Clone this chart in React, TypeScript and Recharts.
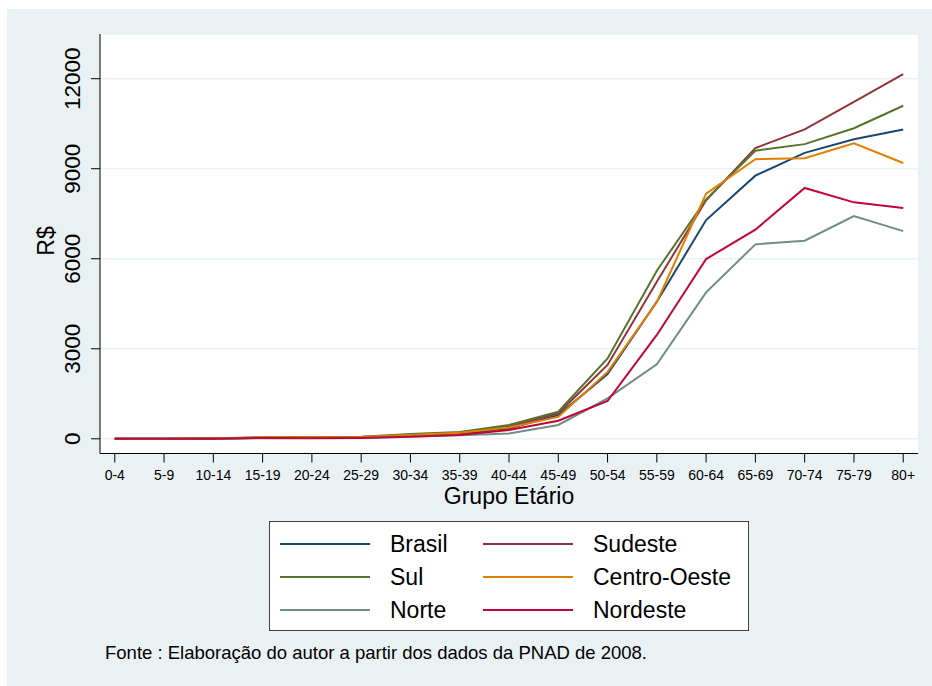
import React from 'react';
import { LineChart, Line, XAxis, YAxis, CartesianGrid } from 'recharts';

const ageGroups = ['0-4', '5-9', '10-14', '15-19', '20-24', '25-29', '30-34', '35-39', '40-44', '45-49', '50-54', '55-59', '60-64', '65-69', '70-74', '75-79', '80+'];

const brasil = [0, 0, 10, 30, 40, 50, 110, 170, 340, 790, 2160, 4570, 7290, 8770, 9530, 9980, 10310];
const sudeste = [0, 0, 10, 40, 50, 60, 130, 200, 400, 850, 2460, 5230, 7950, 9690, 10310, 11230, 12150];
const sul = [0, 0, 15, 50, 60, 70, 160, 230, 460, 900, 2680, 5600, 7980, 9600, 9820, 10350, 11100];
const centroOeste = [0, 0, 10, 50, 50, 60, 130, 200, 380, 730, 2230, 4560, 8170, 9320, 9350, 9850, 9190];
const norte = [0, 0, 5, 20, 30, 30, 80, 120, 180, 460, 1350, 2480, 4880, 6480, 6600, 7420, 6920];
const nordeste = [0, 0, 5, 30, 20, 30, 70, 130, 290, 600, 1260, 3460, 5990, 6970, 8360, 7880, 7690];

const yTicks = [0, 3000, 6000, 9000, 12000];

const series = [
    { key: 'Brasil', values: brasil, color: '#1a476f' },
    { key: 'Sudeste', values: sudeste, color: '#90353b' },
    { key: 'Sul', values: sul, color: '#55752f' },
    { key: 'Centro-Oeste', values: centroOeste, color: '#e37e00' },
    { key: 'Norte', values: norte, color: '#6e8e84' },
    { key: 'Nordeste', values: nordeste, color: '#c10534' },
];

const data = ageGroups.map((age, i) => {
    const row: Record<string, number | string> = { idx: i, age };
    series.forEach((s) => {
        row[s.key] = s.values[i];
    });
    return row;
});

const BG = '#eaf1f3';
const FONT = '"Liberation Sans", Arial, sans-serif';

const YTick = (props: any) => {
    const { y, payload } = props;
    return (
        <text
            x={72}
            y={y}
            transform={`rotate(-90, 72, ${y})`}
            textAnchor="middle"
            dy="0.35em"
            fontSize={22.5}
            fill="#000"
            fontFamily={FONT}
        >
            {payload.value}
        </text>
    );
};

export default function App() {
    return (
        <div style={{ position: 'absolute', left: 0, top: 0, width: 932, height: 686, background: '#fff', fontFamily: FONT, overflow: 'hidden' }}>
            <div style={{ position: 'absolute', left: 7, top: 9, right: 0, bottom: 0, background: BG }} />
            <div style={{ position: 'absolute', left: 0, top: 0 }}>
                <LineChart width={932} height={686} data={data} margin={{ top: 34, right: 14, left: 0, bottom: 192.5 }}>
                    <CartesianGrid horizontal vertical={false} fill="#fff" stroke={BG} strokeWidth={1.5} />
                    <XAxis
                        type="number"
                        dataKey="idx"
                        domain={[-0.3, 16.3]}
                        ticks={ageGroups.map((_, i) => i)}
                        interval={0}
                        tickFormatter={(v: number) => ageGroups[v]}
                        height={40}
                        tickSize={9}
                        tickMargin={8}
                        stroke="#000"
                        tick={{ fill: '#000', fontSize: 14, fontFamily: FONT }}
                        allowDataOverflow
                    />
                    <YAxis
                        type="number"
                        domain={[-490, 13490]}
                        ticks={yTicks}
                        interval={0}
                        width={100}
                        tickSize={9}
                        stroke="#000"
                        tick={<YTick />}
                        allowDataOverflow
                    />
                    {series.map((s) => (
                        <Line
                            key={s.key}
                            type="linear"
                            dataKey={s.key}
                            stroke={s.color}
                            strokeWidth={2}
                            dot={false}
                            activeDot={false}
                            isAnimationActive={false}
                        />
                    ))}
                </LineChart>
            </div>

            <div style={{ position: 'absolute', left: 46, top: 241, transform: 'translate(-50%, -50%) rotate(-90deg)', fontSize: 23, whiteSpace: 'nowrap', lineHeight: 1 }}>
                R$
            </div>
            <div style={{ position: 'absolute', left: 509, top: 496, transform: 'translate(-50%, -50%)', fontSize: 23, whiteSpace: 'nowrap', lineHeight: 0.8 }}>
                Grupo Etário
            </div>

            <div style={{ position: 'absolute', left: 269, top: 521, width: 478, height: 108, border: '1px solid #404040', background: '#fff' }}>
                {[0, 1, 2].map((row) =>
                    [0, 1].map((col) => {
                        const s = series[row * 2 + col];
                        const lineLeft = col === 0 ? 10 : 213;
                        const textLeft = col === 0 ? 120 : 323;
                        const cy = 22 + row * 33;
                        return (
                            <React.Fragment key={s.key}>
                                <div style={{ position: 'absolute', left: lineLeft, top: cy - 1, width: 90, height: 2, background: s.color }} />
                                <div style={{ position: 'absolute', left: textLeft, top: cy, transform: 'translateY(-50%)', fontSize: 23, lineHeight: 1, whiteSpace: 'nowrap' }}>
                                    {s.key}
                                </div>
                            </React.Fragment>
                        );
                    })
                )}
            </div>

            <div style={{ position: 'absolute', left: 105, top: 653, transform: 'translateY(-50%)', fontSize: 18.5, lineHeight: 1, whiteSpace: 'nowrap' }}>
                Fonte : Elaboração do autor a partir dos dados da PNAD de 2008.
            </div>
        </div>
    );
}
